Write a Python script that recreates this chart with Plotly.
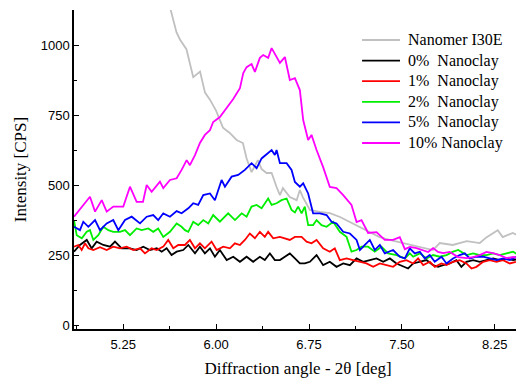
import plotly.graph_objects as go

# ---- data ----
x_gray = [5.60, 5.633, 5.68, 5.71, 5.76, 5.815, 5.87, 5.91, 5.95, 6.00, 6.055, 6.11, 6.165, 6.216, 6.246, 6.286,
          6.337, 6.367, 6.407, 6.448, 6.488, 6.515, 6.539, 6.595, 6.65, 6.676, 6.70, 6.757, 6.838, 6.918, 7.0,
          7.08, 7.16, 7.24, 7.32, 7.40, 7.48, 7.56, 7.645, 7.75, 7.806, 7.911, 8.024, 8.129, 8.185, 8.274,
          8.314, 8.395, 8.468]
y_gray = [1230, 1125, 1045, 1018, 985, 885, 905, 830, 805, 765, 705, 686, 661, 650, 595, 546,
          589, 557, 543, 543, 493, 464, 489, 457, 446, 482, 457, 411, 404, 400, 386,
          368, 350, 332, 314, 304, 296, 286, 279, 268, 293, 286, 300, 293, 314, 339,
          314, 329, 314]

x_black = [4.852, 4.900, 4.955, 4.995, 5.035, 5.089, 5.143, 5.183, 5.237, 5.304, 5.358, 5.411, 5.465, 5.520,
           5.560, 5.600, 5.640, 5.681, 5.734, 5.775, 5.829, 5.869, 5.909, 5.950, 5.990, 6.030, 6.085, 6.138,
           6.192, 6.246, 6.299, 6.353, 6.393, 6.434, 6.474, 6.515, 6.555, 6.595, 6.636, 6.676, 6.716, 6.757,
           6.811, 6.864, 6.918, 6.972, 7.026, 7.080, 7.134, 7.187, 7.241, 7.295, 7.349, 7.403, 7.456, 7.524,
           7.550, 7.591, 7.645, 7.699, 7.752, 7.792, 7.833, 7.886, 7.940, 7.980, 8.021, 8.075, 8.129, 8.183,
           8.237, 8.290, 8.344, 8.398, 8.465]
y_black = [262, 286, 304, 274, 298, 286, 280, 298, 274, 274, 268, 280, 268, 274,
           262, 274, 250, 262, 268, 286, 256, 280, 256, 274, 244, 268, 232, 244,
           226, 244, 226, 244, 232, 256, 232, 232, 244, 256, 238, 220, 220, 226,
           250, 214, 226, 208, 220, 214, 238, 226, 232, 238, 226, 238, 220, 208,
           202, 220, 226, 232, 214, 208, 214, 220, 232, 208, 226, 232, 226, 232,
           238, 232, 238, 232, 238]

x_red = [4.852, 4.887, 4.914, 4.941, 4.968, 5.008, 5.062, 5.116, 5.169, 5.223, 5.277, 5.331, 5.385, 5.425,
         5.479, 5.520, 5.573, 5.613, 5.654, 5.694, 5.748, 5.788, 5.829, 5.869, 5.909, 5.963, 6.004, 6.057,
         6.111, 6.151, 6.192, 6.232, 6.272, 6.313, 6.353, 6.393, 6.420, 6.461, 6.515, 6.555, 6.595, 6.636,
         6.690, 6.730, 6.770, 6.811, 6.864, 6.918, 6.958, 6.999, 7.053, 7.106, 7.161, 7.214, 7.268, 7.322,
         7.376, 7.429, 7.483, 7.537, 7.591, 7.631, 7.672, 7.726, 7.766, 7.820, 7.860, 7.914, 7.967, 8.021,
         8.062, 8.102, 8.156, 8.210, 8.264, 8.317, 8.371, 8.425, 8.465]
y_red = [280, 286, 268, 292, 274, 268, 278, 268, 280, 274, 280, 268, 274, 256,
         274, 268, 280, 304, 274, 286, 286, 304, 274, 292, 274, 298, 268, 280,
         274, 292, 286, 304, 327, 310, 333, 315, 333, 310, 315, 310, 304, 315,
         315, 298, 292, 304, 274, 262, 274, 232, 238, 232, 226, 220, 208, 220,
         214, 208, 226, 232, 220, 238, 214, 226, 208, 220, 214, 226, 232, 220,
         202, 208, 226, 232, 226, 232, 220, 226, 238]

x_green = [4.852, 4.874, 4.915, 4.955, 4.981, 5.008, 5.048, 5.089, 5.129, 5.169, 5.223, 5.264, 5.304, 5.358,
           5.399, 5.452, 5.492, 5.532, 5.573, 5.627, 5.681, 5.721, 5.748, 5.775, 5.815, 5.855, 5.896, 5.936,
           5.976, 6.030, 6.097, 6.152, 6.206, 6.246, 6.286, 6.327, 6.367, 6.420, 6.448, 6.488, 6.528, 6.569,
           6.609, 6.636, 6.662, 6.690, 6.716, 6.743, 6.783, 6.811, 6.851, 6.892, 6.945, 6.999, 7.053, 7.093,
           7.134, 7.174, 7.227, 7.281, 7.335, 7.389, 7.457, 7.524, 7.564, 7.591, 7.645, 7.699, 7.752, 7.806,
           7.860, 7.914, 7.955, 8.022, 8.076, 8.130, 8.183, 8.237, 8.290, 8.344, 8.398, 8.465]
y_green = [375, 321, 310, 333, 339, 304, 321, 351, 339, 333, 333, 339, 321, 345,
           339, 345, 333, 345, 315, 333, 363, 351, 339, 333, 369, 357, 375, 363,
           393, 369, 399, 375, 399, 387, 423, 429, 417, 452, 429, 435, 446, 452,
           411, 402, 423, 399, 423, 357, 357, 375, 357, 351, 369, 333, 315, 262,
           268, 280, 280, 262, 280, 256, 250, 238, 256, 244, 256, 238, 250, 244,
           250, 262, 268, 250, 256, 250, 250, 256, 250, 256, 262, 244]

x_blue = [4.852, 4.900, 4.927, 4.968, 5.022, 5.062, 5.116, 5.169, 5.210, 5.264, 5.318, 5.385, 5.439, 5.492,
          5.532, 5.573, 5.627, 5.681, 5.721, 5.775, 5.815, 5.855, 5.896, 5.950, 5.990, 6.044, 6.071, 6.125,
          6.178, 6.232, 6.286, 6.327, 6.367, 6.420, 6.448, 6.474, 6.488, 6.515, 6.569, 6.609, 6.636, 6.676,
          6.703, 6.743, 6.783, 6.838, 6.892, 6.932, 6.972, 7.026, 7.080, 7.134, 7.161, 7.201, 7.241, 7.281,
          7.322, 7.362, 7.429, 7.483, 7.524, 7.564, 7.604, 7.645, 7.685, 7.725, 7.765, 7.820, 7.860, 7.913,
          7.967, 8.008, 8.048, 8.102, 8.156, 8.210, 8.264, 8.317, 8.371, 8.425, 8.465]
y_blue = [351, 339, 369, 351, 375, 339, 363, 375, 339, 375, 387, 363, 387, 393,
          375, 399, 387, 407, 399, 417, 435, 429, 464, 470, 446, 518, 494, 530,
          536, 554, 578, 560, 595, 613, 625, 607, 625, 578, 578, 554, 511, 494,
          506, 470, 399, 399, 393, 369, 363, 333, 327, 304, 268, 286, 304, 268,
          286, 256, 268, 244, 238, 274, 256, 262, 238, 250, 226, 244, 220, 238,
          250, 256, 238, 244, 244, 238, 232, 238, 232, 244, 232]

x_mag = [4.852, 4.914, 4.981, 5.022, 5.076, 5.116, 5.169, 5.250, 5.304, 5.358, 5.409, 5.439, 5.479, 5.546,
         5.573, 5.627, 5.681, 5.721, 5.762, 5.788, 5.829, 5.869, 5.909, 5.950, 5.976, 6.030, 6.085, 6.138,
         6.192, 6.219, 6.246, 6.286, 6.313, 6.353, 6.380, 6.420, 6.448, 6.488, 6.515, 6.555, 6.595, 6.636,
         6.676, 6.703, 6.743, 6.770, 6.811, 6.864, 6.918, 6.972, 7.026, 7.093, 7.134, 7.174, 7.227, 7.295,
         7.362, 7.429, 7.483, 7.524, 7.564, 7.618, 7.671, 7.712, 7.752, 7.792, 7.833, 7.886, 7.954, 8.022,
         8.075, 8.129, 8.183, 8.236, 8.290, 8.344, 8.398, 8.452]
y_mag = [387, 423, 458, 405, 446, 405, 423, 423, 494, 440, 440, 500, 476, 512,
         489, 518, 524, 554, 589, 571, 607, 650, 679, 696, 725, 743, 775, 807,
         846, 900, 921, 932, 904, 954, 964, 954, 989, 957, 936, 957, 875, 882,
         839, 732, 661, 679, 625, 564, 493, 489, 464, 429, 368, 375, 329, 332,
         304, 304, 314, 271, 279, 275, 268, 261, 275, 261, 257, 261, 243, 239,
         243, 250, 261, 257, 250, 239, 243, 239]

names = ["Nanomer I30E", "0%  Nanoclay", "1%  Nanoclay", "2%  Nanoclay", "5%  Nanoclay", "10% Nanoclay"]
colors = ["#c0c0c0", "#000000", "#ff0000", "#00ee00", "#0000ff", "#ff00ff"]
xs_all = [x_gray, x_black, x_red, x_green, x_blue, x_mag]
ys_all = [y_gray, y_black, y_red, y_green, y_blue, y_mag]

x_ticks = [5.25, 6.00, 6.75, 7.50, 8.25]
y_ticks = [0, 250, 500, 750, 1000]

serif = "Liberation Serif, Times New Roman, serif"
sans = "Liberation Sans, Arial, sans-serif"

fig = go.Figure()
for name, xs, ys, col in zip(names, xs_all, ys_all, colors):
    fig.add_trace(go.Scatter(x=xs, y=ys, mode="lines", name=name,
                             line=dict(color=col, width=1.8), showlegend=False))

# manual legend (paper coordinates)
leg_top = 0.906
leg_step = 0.0646
for i, (name, col) in enumerate(zip(names, colors)):
    yy = leg_top - i * leg_step
    fig.add_shape(type="line", xref="paper", yref="paper", x0=0.643, x1=0.7277, y0=yy, y1=yy,
                  line=dict(color=col, width=1.8))
    fig.add_annotation(xref="paper", yref="paper", x=0.741, y=yy, xanchor="left", yanchor="middle",
                       text=name.replace("  ", "&nbsp; "), showarrow=False,
                       font=dict(family=serif, size=16, color="black"))

fig.update_layout(
    width=516, height=370,
    margin=dict(l=66, r=2, t=2, b=49),
    paper_bgcolor="white", plot_bgcolor="white",
    showlegend=False,
    xaxis=dict(range=[4.852, 8.47], tickvals=x_ticks, ticktext=[f"{v:.2f}" for v in x_ticks],
               ticks="inside", ticklen=5, tickwidth=1, tickcolor="black",
               minor=dict(ticks="inside", ticklen=3, dtick=0.375, tick0=5.25, tickcolor="black"),
               showline=True, linecolor="black", linewidth=1.5, showgrid=False, zeroline=False,
               ticklabelstandoff=3,
               tickfont=dict(family=sans, size=13, color="black"),
               title=dict(text="Diffraction angle - 2θ [deg]", font=dict(family=serif, size=17, color="black"),
                          standoff=12)),
    yaxis=dict(range=[-14, 1125], tickvals=y_ticks,
               ticks="inside", ticklen=5, tickwidth=1, tickcolor="black",
               minor=dict(ticks="inside", ticklen=3, dtick=125, tick0=0, tickcolor="black"),
               showline=True, linecolor="black", linewidth=1.5, showgrid=False, zeroline=False,
               tickfont=dict(family=sans, size=13, color="black"),
               title=dict(text="Intensity [CPS]", font=dict(family=serif, size=17, color="black"),
                          standoff=10)),
)

fig.write_html("out.html")
